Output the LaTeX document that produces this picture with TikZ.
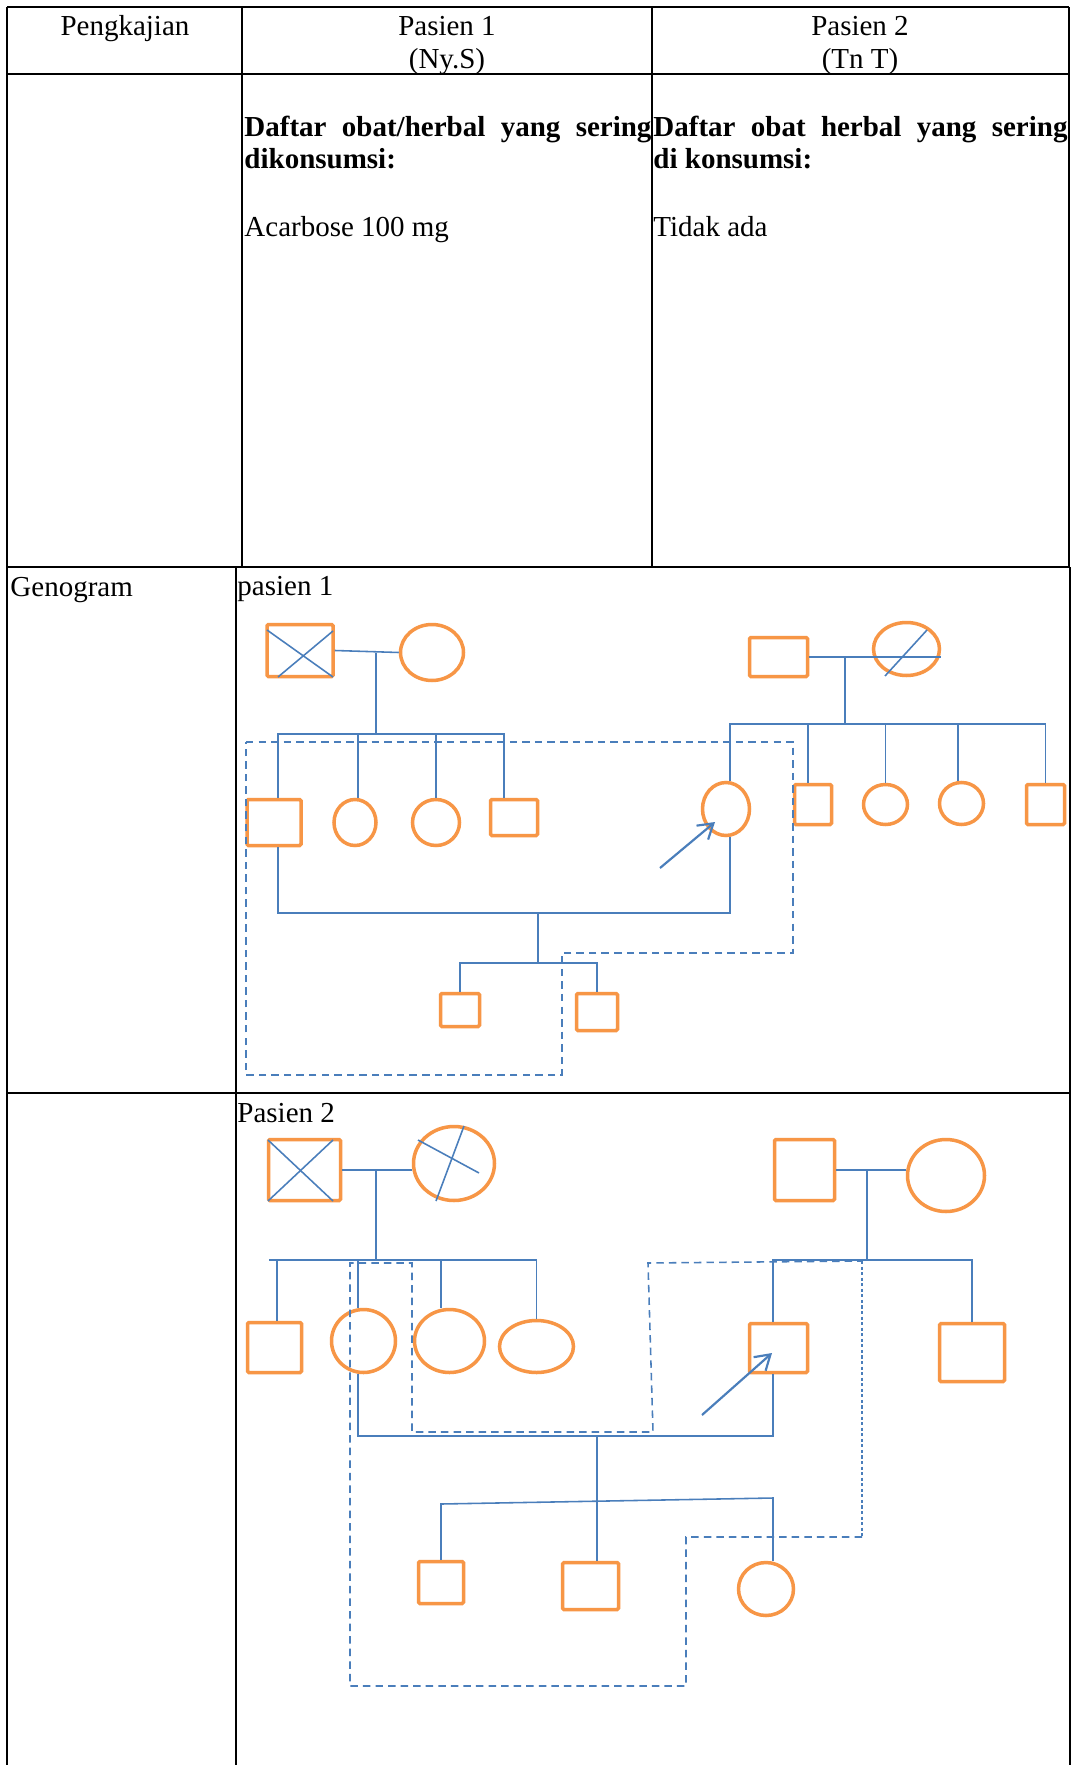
\documentclass[tikz,border=0pt]{standalone}
\usepackage{fontspec}
\setmainfont{Liberation Serif}
\usetikzlibrary{calc,arrows.meta,shapes.geometric}
\definecolor{gor}{HTML}{F79646}
\definecolor{gbl}{HTML}{4A7EBB}
\def\U{0.414pt}
\begin{document}
\begin{tikzpicture}[x=0.414pt,y=-0.414pt,
  tbl/.style={black,line width=0.75pt},
  sz/.style 2 args={minimum width=#1*0.414pt,minimum height=#2*0.414pt},
  psq/.style={draw=gor,line width=1.45pt,rectangle,inner sep=0pt,rounded corners=0.6pt},
  pel/.style={draw=gor,line width=1.45pt,ellipse,inner sep=0pt},
  ln/.style={gbl,line width=0.65pt},
  lnb/.style={gbl,line width=1pt},
  dsh/.style={gbl,line width=0.65pt,dash pattern=on 3.1pt off 2.1pt},
  dshf/.style={gbl,line width=0.6pt,dash pattern=on 1.3pt off 1pt},
  arr/.style={gbl,line width=0.9pt,-{Straight Barb[length=6pt,width=7.5pt,line width=0.9pt]}},
  txt/.style={inner sep=0pt,font=\fontsize{12pt}{14pt}\selectfont},
  txtb/.style={inner sep=0pt,font=\fontsize{12pt}{14pt}\selectfont\bfseries}]
\useasboundingbox[fill=white] (0,0) rectangle (1075,1765);

% ---------------- table ----------------
\draw[tbl] (7,7) -- (1069,7);
\draw[tbl] (7,7) -- (7,1765);
\draw[tbl] (7,74) -- (1069,74);
\draw[tbl] (242,7) -- (242,567);
\draw[tbl] (652,7) -- (652,567);
\draw[tbl] (1069,7) -- (1069,567);
\draw[tbl] (7,567) -- (1070,567);
\draw[tbl] (236,567) -- (236,1765);
\draw[tbl] (1070,567) -- (1070,1765);
\draw[tbl] (7,1093) -- (1070,1093);

\node[txt,anchor=base] (h1) at (125,35.5) {Pengkajian};
\node[txt,anchor=base] (h2) at (447,35.5) {Pasien 1};
\node[txt,anchor=base] (h2b) at (447,68.5) {(Ny.S)};
\node[txt,anchor=base] (h3) at (860,35.5) {Pasien 2};
\node[txt,anchor=base] (h3b) at (860,68.5) {(Tn T)};

\node[txtb,anchor=base west] (a1) at (244,137) {\makebox[168.5pt][s]{Daftar obat/herbal yang sering}};
\node[txtb,anchor=base west] (a2) at (244,169) {dikonsumsi:};
\node[txt,anchor=base west] (a3) at (244,237) {Acarbose 100 mg};
\node[txtb,anchor=base west] (b1) at (653,137) {\makebox[171.4pt][s]{Daftar obat herbal yang sering}};
\node[txtb,anchor=base west] (b2) at (653,169) {di konsumsi:};
\node[txt,anchor=base west] (b3) at (653,237) {Tidak ada};

\node[txt,anchor=base west] (g0) at (10,596) {Genogram};
\node[txt,anchor=base west] (g1) at (237,595) {pasien 1};
\node[txt,anchor=base west] (g2) at (237,1122) {Pasien 2};

% ---------------- genogram pasien 1 ----------------
\node[psq,sz={66}{52}] (p1gf) at (300,650.5) {};
\node[pel,sz={63}{56}] (p1gm) at (432,652.5) {};
\node[psq,sz={54}{46}] (p1c1) at (274,822.5) {};
\node[pel,sz={42}{46}] (p1c2) at (355,822.5) {};
\node[pel,sz={47}{46}] (p1c3) at (436,822.5) {};
\node[psq,sz={47}{36}] (p1c4) at (514,817.5) {};
\node[pel,sz={47}{53}] (p1pb) at (726,809) {};
\node[psq,sz={58}{39}] (p1rgf) at (778.5,657) {};
\node[pel,sz={66}{53}] (p1rgm) at (906.5,649) {};
\node[psq,sz={37}{40}] (p1r1) at (813,804.5) {};
\node[pel,sz={44}{40}] (p1r2) at (885.5,804.5) {};
\node[pel,sz={44}{42}] (p1r3) at (961.5,803.5) {};
\node[psq,sz={38}{40}] (p1r4) at (1045.5,804.5) {};
\node[psq,sz={39}{33}] (p1g1) at (460,1010) {};
\node[psq,sz={41}{37}] (p1g2) at (597,1012) {};

\draw[ln] ($(p1gf.center)+(-33,-20.5)$) -- ($(p1gf.center)+(33,26.5)$);
\draw[ln] ($(p1gf.center)+(-22,26.5)$) -- ($(p1gf.center)+(33,-19.5)$);
\draw[ln] ($(p1rgm.center)+(-21.5,27)$) -- ($(p1rgm.center)+(20.5,-19)$);

\draw[ln] (p1gf.east) -- (p1gm.west);
\coordinate (p1j1) at (376,653);
\coordinate (p1s1) at (376,734);
\draw[ln] (p1j1) -- (p1s1);
\draw[ln] (p1s1) -| ([xshift=4*\U]p1c1.north);
\draw[ln] (p1s1) -| ([xshift=3*\U]p1c2.north);
\draw[ln] (p1s1) -| (p1c3.north);
\draw[ln] (p1s1) -| ([xshift=-10*\U]p1c4.north);

\draw[lnb] (p1rgf.east) -- (p1rgf.east -| p1rgm.east);
\coordinate (p1rj) at (845,657);
\coordinate (p1s2) at (845,724);
\draw[ln] (p1rj) -- (p1s2);
\draw[ln] (p1s2) -| ([xshift=4*\U]p1pb.north);
\draw[ln] (p1s2) -| ([xshift=-5*\U]p1r1.north);
\draw[ln] (p1s2) -| (p1r2.north);
\draw[ln] (p1s2) -| ([xshift=-3.5*\U]p1r3.north);
\draw[ln] (p1s2) -| (p1r4.north);

\coordinate (p1m2) at (538,913);
\coordinate (p1m3) at (538,963);
\draw[ln] ([xshift=4*\U]p1c1.south) |- (p1m2) -| ([xshift=4*\U]p1pb.south);
\draw[lnb] (p1m2) -- (p1m3);
\draw[ln] (p1m3) -| (p1g1.north);
\draw[ln] (p1m3) -| (p1g2.north);

\coordinate (p1ar) at (660,868);
\draw[arr] (p1ar) -- ($(p1pb.center)+(-11,13)$);

\draw[dsh] (246,742) -- (793,742) -- (793,953) -- (562,953) -- (562,1075) -- (246,1075) -- cycle;

% ---------------- genogram pasien 2 ----------------
\node[psq,sz={72}{61}] (p2gf) at (304.5,1170) {};
\node[pel,sz={81}{74}] (p2gm) at (454,1163.5) {};
\node[psq,sz={54}{50}] (p2c1) at (274.5,1347.5) {};
\node[pel,sz={64}{63}] (p2c2) at (363.5,1341) {};
\node[pel,sz={70}{63}] (p2c3) at (449.5,1341) {};
\node[pel,sz={74}{52}] (p2c4) at (536.5,1346.5) {};
\node[psq,sz={60}{61}] (p2rgf) at (804.5,1170) {};
\node[pel,sz={77}{72}] (p2rgm) at (946,1175.5) {};
\node[psq,sz={58}{49}] (p2pb) at (778.5,1348) {};
\node[psq,sz={65}{58}] (p2r2) at (972,1352.5) {};
\node[psq,sz={45}{42}] (p2g1) at (441,1582.5) {};
\node[psq,sz={56}{47}] (p2g2) at (590.5,1586) {};
\node[pel,sz={55}{53}] (p2g3) at (766,1589) {};

\draw[ln] ($(p2gf.center)+(-36.5,-30)$) -- ($(p2gf.center)+(28.5,31)$);
\draw[ln] ($(p2gf.center)+(-36.5,31)$) -- ($(p2gf.center)+(28.5,-30)$);
\draw[ln] ($(p2gm.center)+(-36,-23.5)$) -- ($(p2gm.center)+(25,9.5)$);
\draw[ln] ($(p2gm.center)+(10,-37.5)$) -- ($(p2gm.center)+(-18,37.5)$);

\draw[ln] (p2gf.east) -- (p2gf.east -| p2gm.west);
\coordinate (p2j1) at (376,1170);
\coordinate (p2s1) at (376,1260);
\coordinate (p2s1e) at (269,1260);
\draw[ln] (p2j1) -- (p2s1);
\draw[ln] (p2s1) -- (p2s1e);
\draw[lnb] (p2s1) -| ([xshift=2.5*\U]p2c1.north);
\draw[ln] (p2s1) -| ([xshift=-5.5*\U]p2c2.north);
\draw[ln] (p2s1) -| ([xshift=-8.5*\U]p2c3.north);
\draw[ln] (p2s1) -| (p2c4.north);

\draw[ln] (p2rgf.east) -- (p2rgf.east -| p2rgm.west);
\coordinate (p2j2) at (867,1170);
\coordinate (p2s2) at (867,1260);
\draw[lnb] (p2j2) -- (p2s2);
\draw[ln] (p2s2) -| ([xshift=-5.5*\U]p2pb.north);
\draw[ln] (p2s2) -| (p2r2.north);

\coordinate (p2m) at (597,1436);
\draw[lnb] ([xshift=-5.5*\U]p2c2.south) |- (p2m) -| ([xshift=-5.5*\U]p2pb.south);
\draw[ln] (p2m) -- ([xshift=6.5*\U]p2g2.north);
\coordinate (p2L) at (441,1504);
\coordinate (p2R) at (773,1498);
\draw[ln] (p2g1.north) -- (p2L) -- (p2R) -- ([xshift=7*\U]p2g3.north);

\coordinate (p2ar) at (702,1415);
\draw[arr] (p2ar) -- ($(p2pb.center)+(-6.5,5)$);

\draw[dsh] (862,1537) -- (686,1537) -- (686,1686) -- (350,1686) -- (350,1263) -- (412,1263) -- (412,1432) -- (653,1432) -- (648,1263) -- (862,1261);
\draw[dshf] (862,1261) -- (862,1537);
\end{tikzpicture}
\end{document}
